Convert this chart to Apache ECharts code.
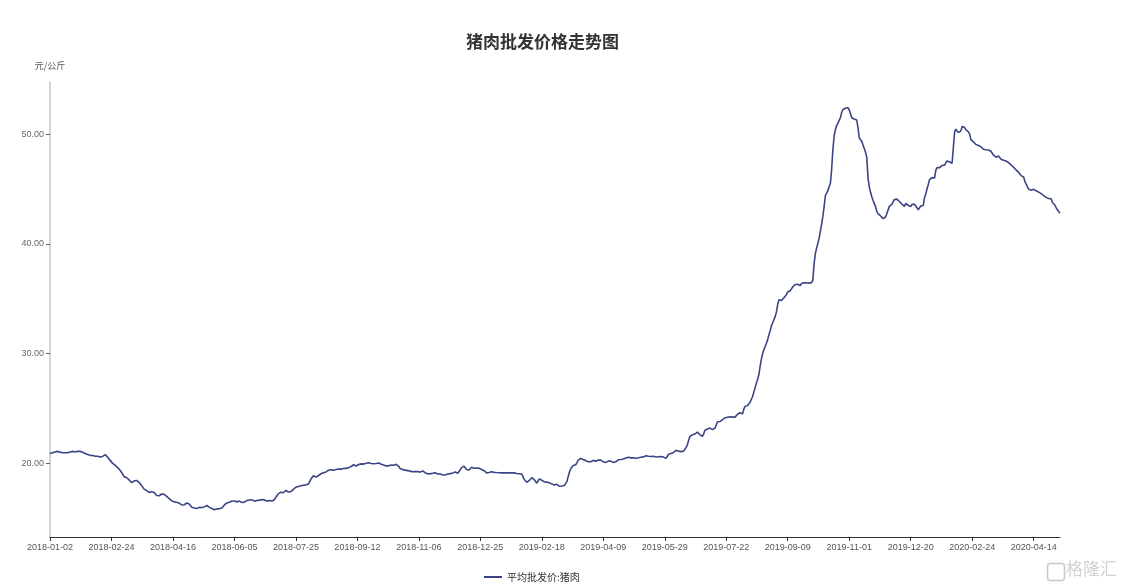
<!DOCTYPE html>
<html>
<head>
<meta charset="utf-8">
<script src="https://cdn.jsdelivr.net/npm/echarts@6/dist/echarts.min.js"></script>
<style>html,body{margin:0;padding:0;background:#fff;}#c{width:1124px;height:585px;}</style>
</head>
<body>
<div id="c"></div>
<script>
// ---- data ----
const chartTitle = '猪肉批发价格走势图';
const unitName = '元/公斤';
const seriesName = '平均批发价:猪肉';
const firstDate = '2018-01-02';
// days without a published price (holidays)
const missingDates = [
  '2018-02-15','2018-02-16','2018-02-17','2018-02-18',
  '2018-04-05','2018-04-06','2018-05-01','2018-06-18',
  '2018-09-24','2018-10-01','2018-10-02','2018-10-03','2018-10-04','2018-10-05',
  '2019-01-01','2019-02-04','2019-02-05','2019-02-06','2019-02-07','2019-02-08',
  '2019-04-05','2019-05-01','2019-06-07','2019-06-08','2019-06-09','2019-07-06','2019-07-07',
  '2019-10-01','2019-10-02','2019-10-03','2019-10-04',
  '2020-01-01','2020-01-24','2020-01-25','2020-01-26','2020-01-27','2020-01-28','2020-01-29','2020-01-30',
  '2020-01-31','2020-02-01','2020-02-02','2020-02-03','2020-02-04','2020-02-05','2020-02-06','2020-02-07','2020-02-08',
  '2020-04-04','2020-05-01'
];
const price2018 = [
20.90,20.92,20.98,21.02,21.05,21.08,21.10,21.06,21.03,21.00,
20.98,20.95,20.97,21.00,20.98,21.02,21.05,21.08,21.10,21.08,
21.05,21.07,21.10,21.12,21.10,21.08,21.02,20.95,20.90,20.86,
20.82,20.78,20.74,20.70,20.72,20.68,20.66,20.69,20.66,20.64,
20.58,20.55,20.64,20.75,20.80,20.70,20.56,20.42,20.28,20.14,
20.00,19.90,19.82,19.74,19.62,19.50,19.36,19.20,19.02,18.80,
18.70,18.72,18.63,18.50,18.38,18.27,18.32,18.40,18.46,18.45,
18.38,18.28,18.18,18.00,17.82,17.66,17.58,17.52,17.44,17.36,
17.38,17.42,17.45,17.35,17.22,17.08,17.00,17.06,17.14,17.22,
17.27,17.18,17.08,17.00,16.90,16.80,16.70,16.60,16.54,16.50,
16.48,16.46,16.44,16.38,16.30,16.22,16.17,16.24,16.32,16.40,
16.44,16.30,16.14,16.02,15.98,15.95,15.92,15.90,15.95,16.00,
16.00,15.98,16.00,16.04,16.12,16.17,16.08,16.00,15.94,15.90,
15.95,15.78,15.74,15.86,15.96,15.88,15.80,15.95,16.10,16.22,
16.32,16.40,16.43,16.46,16.52,16.58,16.63,16.58,16.52,16.50,
16.54,16.57,16.52,16.45,16.40,16.48,16.58,16.63,16.65,16.67,
16.68,16.68,16.62,16.57,16.60,16.62,16.64,16.66,16.69,16.71,
16.72,16.66,16.60,16.57,16.60,16.63,16.61,16.58,16.57,16.72,
16.92,17.08,17.25,17.40,17.38,17.34,17.33,17.44,17.54,17.48,
17.40,17.33,17.44,17.55,17.64,17.74,17.84,17.88,17.90,17.93,
17.96,18.00,18.02,18.04,18.05,18.07,18.12,18.35,18.58,18.76,
18.88,18.84,18.76,18.80,18.90,19.00,19.06,19.12,19.15,19.20,
19.23,19.30,19.38,19.45,19.42,19.40,19.38,19.39,19.44,19.48,
19.50,19.52,19.48,19.50,19.55,19.52,19.55,19.60,19.62,19.66,
19.72,19.80,19.88,19.84,19.77,19.82,19.90,19.97,19.96,19.95,
19.94,19.98,20.02,20.05,20.06,20.03,20.00,19.97,19.98,19.99,
20.00,20.02,20.04,20.06,19.92,19.88,19.85,19.82,19.76,19.70,
19.80,19.90,19.86,19.83,19.84,19.90,19.92,19.94,19.74,19.54,
19.50,19.46,19.42,19.39,19.37,19.35,19.32,19.30,19.27,19.24,
19.21,19.26,19.30,19.26,19.22,19.21,19.26,19.32,19.28,19.16,
19.06,19.05,19.06,19.07,19.06,19.10,19.13,19.15,19.10,19.04,
19.04,19.05,19.06,18.95,18.86,18.95,19.03,19.04,19.05,19.07,
19.10,19.14,19.18,19.22,19.24,19.10,19.20,19.42,19.62,19.80,
19.74,19.62,19.45,19.32,19.40,19.52,19.66,19.60,19.56,19.55,
19.57,19.60,19.56,19.50,19.45,19.40,19.34,19.26,19.14,19.02
];
const price2019 = [
19.18,19.28,19.24,19.20,19.19,19.18,19.17,19.15,19.16,19.15,
19.14,19.15,19.16,19.15,19.14,19.15,19.16,19.15,19.14,19.15,
19.14,19.12,19.09,19.08,19.06,19.04,19.03,18.80,18.54,18.40,
18.28,18.26,18.45,18.62,18.70,18.62,18.52,18.35,18.20,18.40,
18.60,18.52,18.47,18.40,18.32,18.30,18.30,18.28,18.25,18.20,
18.12,18.06,18.03,18.00,18.10,18.15,17.92,17.88,17.94,18.00,
18.00,18.00,18.35,18.80,19.20,19.52,19.70,19.82,19.85,19.88,
20.08,20.30,20.40,20.45,20.40,20.36,20.30,20.24,20.20,20.16,
20.13,20.15,20.19,20.28,20.42,20.20,20.14,20.32,20.38,20.30,
20.22,20.14,20.07,20.10,20.16,20.21,20.22,20.21,20.16,20.08,
20.10,20.16,20.24,20.33,20.37,20.36,20.36,20.40,20.44,20.50,
20.58,20.56,20.52,20.51,20.52,20.52,20.50,20.48,20.50,20.52,
20.55,20.57,20.59,20.60,20.65,20.70,20.72,20.66,20.60,20.63,
20.65,20.66,20.62,20.59,20.58,20.61,20.63,20.62,20.61,20.58,
20.52,20.46,20.60,20.84,20.90,20.90,20.90,21.00,21.12,21.20,
21.16,21.12,21.10,21.08,21.06,21.12,21.20,21.45,21.70,22.10,
22.45,22.58,22.62,22.65,22.68,22.72,22.85,22.92,22.62,22.52,
22.46,22.70,23.02,23.10,23.13,23.16,23.22,23.24,23.08,22.95,
23.20,23.50,23.80,23.90,23.82,23.85,24.00,24.08,24.16,24.19,
24.21,24.23,24.25,24.28,24.22,24.12,24.22,24.38,24.48,24.56,
24.62,24.58,24.53,24.95,25.20,25.25,25.29,25.42,25.58,25.75,
26.10,26.50,26.90,27.30,27.65,28.10,28.85,29.50,30.00,30.38,
30.65,30.95,31.28,31.70,32.10,32.55,32.82,33.10,33.40,33.80,
34.50,34.92,34.78,34.85,35.00,35.10,35.22,35.40,35.62,35.72,
35.74,35.85,36.08,36.25,36.30,36.24,36.32,36.38,36.20,36.40,
36.46,36.47,36.46,36.44,36.41,36.43,36.45,36.47,36.70,38.20,
39.10,39.62,40.05,40.50,41.15,41.80,42.50,43.40,44.40,44.62,
44.85,45.20,45.52,46.80,48.60,49.85,50.40,50.78,51.00,51.10,
51.50,51.97,52.24,52.30,52.36,52.40,52.42,52.20,51.85,51.50,
51.42,51.38,51.34,51.28,50.60,49.65,49.50,49.35,49.00,48.70,
48.35,47.90,46.00,45.20,44.70,44.30,43.95,43.80,43.40,42.95,
42.75,42.62,42.55,42.45,42.30,42.18,42.45,42.78,43.10,43.42,
43.48,43.60,43.82,44.05,44.12,44.08,44.00,43.86,43.75,43.62,
43.48,43.42,43.68,43.62,43.52,43.45,43.40,43.60,43.76,43.62,
43.45,43.30,43.10,43.05,43.45,43.28,43.50,44.20
];
const price2020 = [
44.55,45.00,
45.40,45.85,46.00,46.04,45.95,46.00,46.70,46.95,47.10,46.95,
46.92,47.15,47.24,47.18,47.35,47.56,47.52,47.46,47.40,47.35,
48.80,50.20,50.45,50.30,50.14,49.98,50.30,50.70,50.75,50.60,
50.40,50.22,50.20,50.00,49.50,49.36,49.30,49.20,49.05,48.98,
48.96,48.93,48.85,48.72,48.62,48.60,48.58,48.57,48.56,48.50,
48.44,48.30,48.08,47.98,47.90,47.88,48.00,47.92,47.72,47.64,
47.63,47.62,47.55,47.46,47.40,47.30,47.20,47.08,46.98,46.86,
46.75,46.64,46.52,46.38,46.22,46.24,46.10,45.70,45.45,45.22,
45.00,44.84,44.88,44.95,44.97,44.90,44.84,44.80,44.72,44.67,
44.58,44.48,44.40,44.32,44.24,44.18,44.13,44.26,44.10,43.78,
43.62,43.52,43.28,43.08,42.90,42.80
];
const yTickValues = [20, 30, 40, 50];

// ---- build ----
const prices = price2018.concat(price2019, price2020);
function buildDates(start, count, skip) {
  const skipSet = new Set(skip);
  const p = start.split('-').map(Number);
  const d = new Date(Date.UTC(p[0], p[1] - 1, p[2]));
  const out = [];
  while (out.length < count) {
    const s = d.toISOString().slice(0, 10);
    if (!skipSet.has(s)) out.push(s);
    d.setUTCDate(d.getUTCDate() + 1);
  }
  return out;
}
const dates = buildDates(firstDate, prices.length, missingDates);

const chart = echarts.init(document.getElementById('c'), null, {renderer: 'canvas'});
const font = '"Liberation Sans", "Noto Sans CJK SC", sans-serif';
chart.setOption({
  animation: false,
  backgroundColor: '#fff',
  title: {
    text: chartTitle,
    left: 466, top: 33, padding: 0,
    textStyle: {fontSize: 17, fontWeight: 'bold', color: '#333', fontFamily: '"Noto Sans CJK SC", sans-serif'}
  },
  legend: {
    data: [seriesName],
    left: 479, top: 567,
    itemWidth: 18, itemHeight: 10, itemGap: 5,
    icon: 'path://M0,4 L18,4 L18,6 L0,6 Z',
    textStyle: {fontSize: 10, color: '#333', fontFamily: '"Noto Sans CJK SC", sans-serif'}
  },
  grid: {left: 50, right: 64, top: 82, bottom: 48, containLabel: false},
  xAxis: {
    type: 'category',
    data: dates,
    boundaryGap: false,
    axisLine: {lineStyle: {color: '#333', width: 1}},
    axisTick: {show: true, interval: 48, length: 4, lineStyle: {color: '#333'}},
    axisLabel: {interval: 48, fontSize: 9, color: '#555', margin: 6, fontFamily: font},
    splitLine: {show: false}
  },
  yAxis: {
    type: 'value',
    min: 13.3, max: 54.75,
    name: unitName,
    nameLocation: 'end',
    nameGap: 12,
    nameTextStyle: {fontSize: 9, color: '#555', fontFamily: '"Noto Sans CJK SC", sans-serif'},
    axisLine: {show: true, lineStyle: {color: '#c4c4c4', width: 1.5}},
    axisTick: {show: true, length: 4, customValues: yTickValues, lineStyle: {color: '#666'}},
    axisLabel: {
      fontSize: 9, color: '#666', margin: 6, fontFamily: font,
      customValues: yTickValues,
      formatter: function (v) { return yTickValues.indexOf(Math.round(v * 100) / 100) >= 0 ? v.toFixed(2) : ''; }
    },
    splitLine: {show: false}
  },
  series: [{
    name: seriesName,
    type: 'line',
    data: prices,
    showSymbol: false,
    symbol: 'none',
    lineStyle: {color: '#3b4585', width: 1.6},
    itemStyle: {color: '#3b4585'}
  }],
  graphic: [
    {type: 'rect', left: 1045, top: 561, shape: {width: 17, height: 17, r: 3}, style: {fill: 'none', stroke: '#c8c8c8', lineWidth: 1.5}},
    {type: 'text', left: 1066, top: 560, style: {text: '格隆汇', fontSize: 17, fill: '#d2d2d2', fontFamily: '"Noto Sans CJK SC", sans-serif'}}
  ]
});
</script>
</body>
</html>
